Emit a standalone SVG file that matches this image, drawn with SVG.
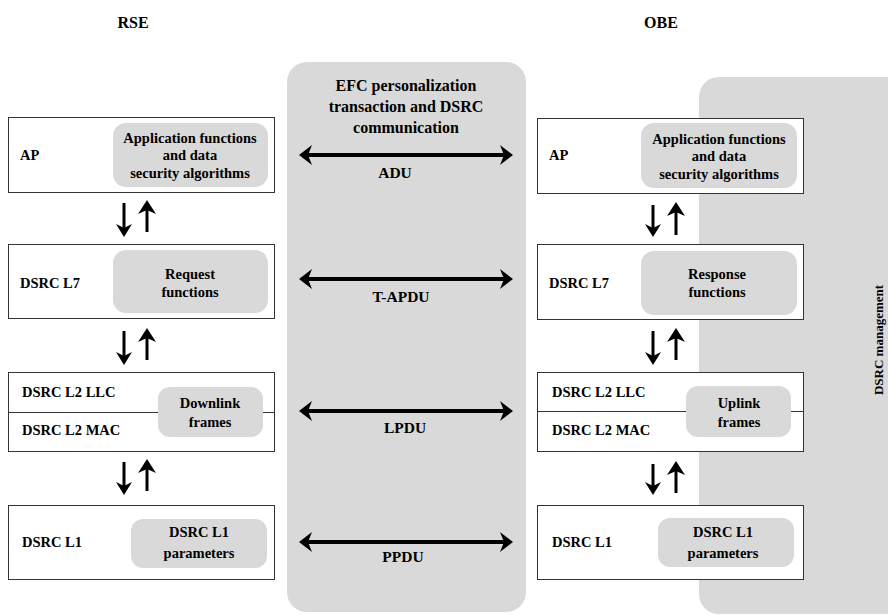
<svg xmlns="http://www.w3.org/2000/svg" width="888" height="615" viewBox="0 0 888 615">
<style>
text{font-family:"Liberation Serif","DejaVu Serif",serif;font-weight:bold;fill:#000}
.t{font-size:14.5px}
.c{text-anchor:middle}
.h{font-size:16px}
.lbl{font-size:15.5px;text-anchor:middle}
.box{fill:#fff;stroke:#333;stroke-width:1}
.inner{fill:#d9d9d9}
.panel{fill:#d9d9d9}
.shaft{stroke:#000;stroke-width:4;fill:none}
.vs{stroke:#000;stroke-width:3;fill:none}
.head{fill:#000}
</style>
<rect width="888" height="615" fill="#fff"/>
<g id="panels">
<rect class="panel" x="287" y="62" width="239" height="550" rx="20"/>
<rect class="panel" x="699" y="77" width="220" height="537" rx="20"/>
</g>
<text class="h c" x="133" y="28">RSE</text>
<text class="h c" x="661" y="28">OBE</text>
<g id="mid-title">
<text class="h c" x="406" y="91">EFC personalization</text>
<text class="h c" x="406" y="112">transaction and DSRC</text>
<text class="h c" x="406" y="133">communication</text>
</g>
<text class="c" style="font-size:13px" transform="translate(883,340) rotate(-90)">DSRC management</text>

<g id="rse-ap">
<rect class="box" x="8.5" y="117.5" width="266" height="75"/>
<rect class="inner" x="113" y="123" width="155" height="64" rx="13"/>
<text class="t" x="20" y="160">AP</text>
<text class="t c" x="190" y="143">Application functions</text>
<text class="t c" x="190" y="160">and data</text>
<text class="t c" x="190" y="178">security algorithms</text>
</g>
<g id="rse-l7">
<rect class="box" x="8.5" y="244.5" width="266" height="74"/>
<rect class="inner" x="113" y="250" width="155" height="63" rx="13"/>
<text class="t" x="20" y="288">DSRC L7</text>
<text class="t c" x="190" y="279">Request</text>
<text class="t c" x="190" y="297">functions</text>
</g>
<g id="rse-l2">
<rect class="box" x="8.5" y="372.5" width="266" height="79"/>
<line x1="8.5" y1="412.5" x2="274.5" y2="412.5" stroke="#333" stroke-width="1"/>
<rect class="inner" x="158" y="387" width="105" height="50" rx="12"/>
<text class="t" x="22" y="397">DSRC L2 LLC</text>
<text class="t" x="22" y="435">DSRC L2 MAC</text>
<text class="t c" x="210" y="408">Downlink</text>
<text class="t c" x="210" y="427">frames</text>
</g>
<g id="rse-l1">
<rect class="box" x="8.5" y="505.5" width="266" height="74"/>
<rect class="inner" x="131" y="519" width="136" height="49" rx="12"/>
<text class="t" x="22" y="547">DSRC L1</text>
<text class="t c" x="199" y="537">DSRC L1</text>
<text class="t c" x="199" y="558">parameters</text>
</g>

<g id="obe-ap">
<rect class="box" x="537.5" y="118.5" width="266" height="75"/>
<rect class="inner" x="641" y="123" width="156" height="65" rx="13"/>
<text class="t" x="549" y="160">AP</text>
<text class="t c" x="719" y="144">Application functions</text>
<text class="t c" x="719" y="161">and data</text>
<text class="t c" x="719" y="179">security algorithms</text>
</g>
<g id="obe-l7">
<rect class="box" x="537.5" y="244.5" width="266" height="75"/>
<rect class="inner" x="641" y="251" width="156" height="64" rx="13"/>
<text class="t" x="549" y="288">DSRC L7</text>
<text class="t c" x="717" y="279">Response</text>
<text class="t c" x="717" y="297">functions</text>
</g>
<g id="obe-l2">
<rect class="box" x="537.5" y="372.5" width="266" height="79"/>
<line x1="537.5" y1="411.5" x2="803.5" y2="411.5" stroke="#333" stroke-width="1"/>
<rect class="inner" x="686" y="386" width="105" height="51" rx="12"/>
<text class="t" x="552" y="397">DSRC L2 LLC</text>
<text class="t" x="552" y="435">DSRC L2 MAC</text>
<text class="t c" x="739" y="408">Uplink</text>
<text class="t c" x="739" y="427">frames</text>
</g>
<g id="obe-l1">
<rect class="box" x="537.5" y="505.5" width="266" height="74"/>
<rect class="inner" x="658" y="518" width="136" height="49" rx="12"/>
<text class="t" x="552" y="547">DSRC L1</text>
<text class="t c" x="723" y="537">DSRC L1</text>
<text class="t c" x="723" y="558">parameters</text>
</g>

<g id="connectors">
<line class="shaft" x1="306" y1="155" x2="506" y2="155"/>
<path class="head" d="M299,155 L312,145 L308,155 L312,165Z"/>
<path class="head" d="M513,155 L500,145 L504,155 L500,165Z"/>
<line class="shaft" x1="306" y1="279" x2="506" y2="279"/>
<path class="head" d="M299,279 L312,269 L308,279 L312,289Z"/>
<path class="head" d="M513,279 L500,269 L504,279 L500,289Z"/>
<line class="shaft" x1="306" y1="411" x2="506" y2="411"/>
<path class="head" d="M299,411 L312,401 L308,411 L312,421Z"/>
<path class="head" d="M513,411 L500,401 L504,411 L500,421Z"/>
<line class="shaft" x1="306" y1="542" x2="506" y2="542"/>
<path class="head" d="M299,542 L312,532 L308,542 L312,552Z"/>
<path class="head" d="M513,542 L500,532 L504,542 L500,552Z"/>

<g id="rse-vert">
<line class="vs" x1="124" y1="203" x2="124" y2="230"/>
<path class="head" d="M124,237 L116,224 L124,228 L132,224Z"/>
<line class="vs" x1="147" y1="208" x2="147" y2="232"/>
<path class="head" d="M147,200 L138,214 L147,210 L156,214Z"/>
<line class="vs" x1="124" y1="331" x2="124" y2="358"/>
<path class="head" d="M124,365 L116,352 L124,356 L132,352Z"/>
<line class="vs" x1="147" y1="336" x2="147" y2="360"/>
<path class="head" d="M147,328 L138,342 L147,338 L156,342Z"/>
<line class="vs" x1="124" y1="462" x2="124" y2="488"/>
<path class="head" d="M124,495 L116,482 L124,486 L132,482Z"/>
<line class="vs" x1="147" y1="467" x2="147" y2="491"/>
<path class="head" d="M147,459 L138,473 L147,469 L156,473Z"/>
</g>
<g id="obe-vert">
<line class="vs" x1="653" y1="205" x2="653" y2="230"/>
<path class="head" d="M653,237 L645,224 L653,228 L661,224Z"/>
<line class="vs" x1="676" y1="210" x2="676" y2="235"/>
<path class="head" d="M676,202 L667,216 L676,212 L685,216Z"/>
<line class="vs" x1="653" y1="331" x2="653" y2="358"/>
<path class="head" d="M653,365 L645,352 L653,356 L661,352Z"/>
<line class="vs" x1="676" y1="336" x2="676" y2="360"/>
<path class="head" d="M676,328 L667,342 L676,338 L685,342Z"/>
<line class="vs" x1="653" y1="464" x2="653" y2="488"/>
<path class="head" d="M653,495 L645,482 L653,486 L661,482Z"/>
<line class="vs" x1="676" y1="469" x2="676" y2="493"/>
<path class="head" d="M676,461 L667,475 L676,471 L685,475Z"/>
</g>
</g>
<g id="labels">
<text class="lbl" x="395" y="178">ADU</text>
<text class="lbl" x="401" y="302">T-APDU</text>
<text class="lbl" x="405" y="433">LPDU</text>
<text class="lbl" x="403" y="562">PPDU</text>
</g>
</svg>
